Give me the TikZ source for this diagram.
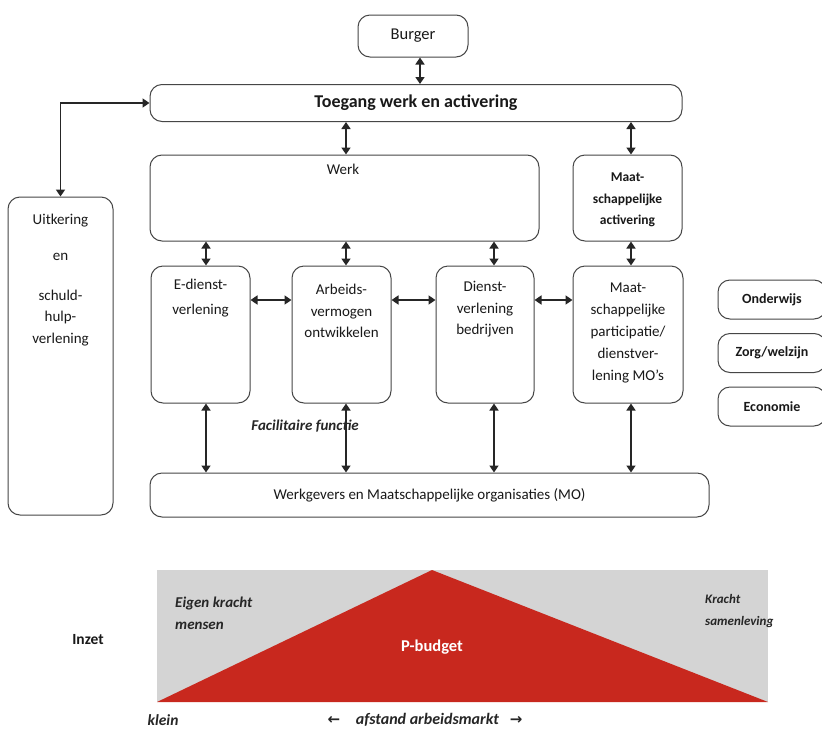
\documentclass[tikz,border=0pt]{standalone}
\usepackage{fontspec}
\setmainfont{Carlito}
\usetikzlibrary{arrows.meta}
\definecolor{boxline}{RGB}{70,70,70}
\definecolor{pred}{RGB}{200,40,30}
\definecolor{pgray}{RGB}{212,212,212}
\begin{document}
\begin{tikzpicture}[x=1pt,y=-1pt,
  box/.style={draw=boxline, line width=1pt, rounded corners=12pt, inner sep=0pt, fill=white},
  txt/.style={font=\fontsize{15}{21.5}\selectfont, align=center, inner sep=0pt, text=black!90},
  btxt/.style={font=\bfseries\fontsize{14}{21}\selectfont, align=center, inner sep=0pt, text=black!90},
  bitxt/.style={font=\bfseries\itshape\fontsize{15}{22}\selectfont, align=left, inner sep=0pt, text=black!85},
  dbl/.style={{Triangle[width=9pt,length=7pt]}-{Triangle[width=9pt,length=7pt]}, line width=1.6pt, draw=black!85},
]
\useasboundingbox (0,0) rectangle (822,734);
\fill[white] (0,0) rectangle (822,734);

% top
\node[box, minimum width=110pt, minimum height=42pt, txt, font=\fontsize{16.5}{21}\selectfont] (burger) at (413,36) {Burger};
\node[box, minimum width=532pt, minimum height=37pt, font=\bfseries\fontsize{18}{21}\selectfont, text=black!90] (toegang) at (416,103) {Toegang werk en activering};
\node[box, minimum width=389pt, minimum height=86pt] (werk) at (344.5,198) {};
\node[txt, anchor=north] (werkt) at (343,164) {Werk};
\node[box, minimum width=109pt, minimum height=86pt] (ma) at (627.5,198) {};
\node[btxt, anchor=north, font=\bfseries\fontsize{13.5}{21.5}\selectfont] (mat) at (627.5,173) {Maat-\\schappelijke\\activering};

% left box
\node[box, minimum width=105pt, minimum height=318pt] (uitk) at (60.5,356) {};
\node[txt] (uitk1) at (60.5,221) {Uitkering};
\node[txt] (uitk2) at (60.5,257) {en};
\node[txt] (uitk3) at (60.5,318) {schuld-\\hulp-\\verlening};

% middle row
\node[box, minimum width=99pt, minimum height=137pt] (edl) at (200.5,334.5) {};
\node[box, minimum width=99pt, minimum height=137pt] (arb) at (341.5,334.5) {};
\node[box, minimum width=98pt, minimum height=137pt] (dbd) at (485,334.5) {};
\node[box, minimum width=110pt, minimum height=137pt] (mpd) at (628,334.5) {};
\node[txt, anchor=north, font=\fontsize{15}{25}\selectfont] (edlt) at (200.5,279) {E-dienst-\\verlening};
\node[txt, anchor=north] (arbt) at (341.5,284) {Arbeids-\\vermogen\\ontwikkelen};
\node[txt, anchor=north] (dbdt) at (485,281) {Dienst-\\verlening\\bedrijven};
\node[txt, anchor=north, font=\fontsize{15}{21.8}\selectfont] (mpdt) at (628,283) {Maat-\\schappelijke\\participatie/\\dienstver-\\lening MO’s};

% right boxes
\node[box, minimum width=108pt, minimum height=39pt, btxt] (ond) at (772,299.5) {Onderwijs};
\node[box, minimum width=108pt, minimum height=39pt, btxt] (zorg) at (772,353) {Zorg/welzijn};
\node[box, minimum width=108pt, minimum height=39pt, btxt] (econ) at (772,406.5) {Economie};

\node[bitxt] (facil) at (305,426) {Facilitaire functie};

% bottom box
\node[box, minimum width=559pt, minimum height=44pt, txt] (bottom) at (429.5,495) {Werkgevers en Maatschappelijke organisaties (MO)};

% connector helpers
\coordinate (cb) at (420,0);
\coordinate (c1) at (206,0);
\coordinate (c2) at (346,0);
\coordinate (c3) at (494,0);
\coordinate (c4) at (631,0);
\coordinate (hy) at (0,300);

\draw[dbl] (burger.south -| cb) -- (toegang.north -| cb);
\draw[dbl] (toegang.south -| c2) -- (werk.north -| c2);
\draw[dbl] (toegang.south -| c4) -- (ma.north -| c4);
\draw[dbl] (uitk.north) |- (toegang.west);
\draw[dbl] (werk.south -| c1) -- (edl.north -| c1);
\draw[dbl] (werk.south -| c2) -- (arb.north -| c2);
\draw[dbl] (werk.south -| c3) -- (dbd.north -| c3);
\draw[dbl] (ma.south -| c4) -- (mpd.north -| c4);
\draw[dbl] (edl.east |- hy) -- (arb.west |- hy);
\draw[dbl] (arb.east |- hy) -- (dbd.west |- hy);
\draw[dbl] (dbd.east |- hy) -- (mpd.west |- hy);
\draw[dbl] (edl.south -| c1) -- (bottom.north -| c1);
\draw[dbl] (arb.south -| c2) -- (bottom.north -| c2);
\draw[dbl] (dbd.south -| c3) -- (bottom.north -| c3);
\draw[dbl] (mpd.south -| c4) -- (bottom.north -| c4);

% bottom diagram
\fill[pgray] (157,570) rectangle (768,702);
\fill[pred] (157,702) -- (432,570) -- (768,702) -- cycle;
\node[font=\bfseries\fontsize{16.5}{20}\selectfont, text=white, inner sep=0pt] (pbud) at (432,647) {P-budget};
\node[bitxt, anchor=north west] (eigen) at (175,597) {Eigen kracht\\mensen};
\node[bitxt, anchor=north west, font=\bfseries\itshape\fontsize{13}{22}\selectfont] (kracht) at (705,594) {Kracht\\samenleving};
\node[btxt, font=\bfseries\fontsize{15.5}{20}\selectfont] (inzet) at (88,640) {Inzet};
\node[bitxt, font=\bfseries\itshape\fontsize{15.5}{20}\selectfont] (klein) at (163,720) {klein};
\node[bitxt, font=\bfseries\itshape\fontsize{16}{20}\selectfont] (afstand) at (425,720) {\fontspec{DejaVu Sans}\fontsize{15}{20}\selectfont\char"2190\ \ \ \normalfont\bfseries\itshape\fontsize{16}{20}\selectfont afstand arbeidsmarkt\ \ \ \fontspec{DejaVu Sans}\fontsize{15}{20}\selectfont\char"2192};
\end{tikzpicture}
\end{document}
